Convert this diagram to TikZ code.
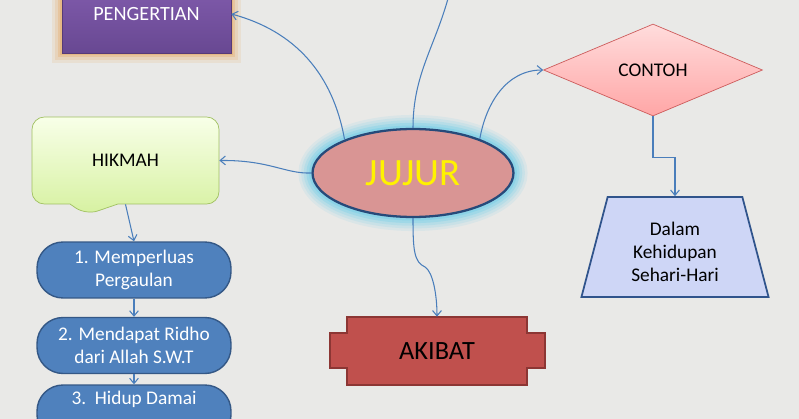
\documentclass[tikz,border=0pt]{standalone}
\usepackage{fontspec}
\setmainfont{Carlito}
\usetikzlibrary{arrows.meta,shapes.geometric,shapes.callouts,calc}
\definecolor{paper}{RGB}{233,233,231}
\definecolor{linkblue}{RGB}{74,126,187}
\definecolor{purpletop}{RGB}{132,94,176}
\definecolor{purplebot}{RGB}{104,72,146}
\definecolor{purpleline}{RGB}{86,58,120}
\definecolor{glowamber}{RGB}{228,166,96}
\definecolor{glowcyan}{RGB}{110,205,232}
\definecolor{jujurfill}{RGB}{217,149,148}
\definecolor{jujurline}{RGB}{38,74,122}
\definecolor{pinktop}{RGB}{255,220,220}
\definecolor{pinkbot}{RGB}{255,166,166}
\definecolor{pinkline}{RGB}{205,92,92}
\definecolor{greentop}{RGB}{248,255,232}
\definecolor{greenbot}{RGB}{214,241,160}
\definecolor{greenline}{RGB}{160,192,96}
\definecolor{itemblue}{RGB}{79,129,189}
\definecolor{itemline}{RGB}{52,88,134}
\definecolor{lavender}{RGB}{206,214,246}
\definecolor{trapline}{RGB}{48,84,140}
\definecolor{akibatred}{RGB}{192,80,77}
\definecolor{akibatline}{RGB}{140,54,52}

\begin{document}
\begin{tikzpicture}[x=0.02cm, y=0.02cm, >={Straight Barb[length=3pt,width=5pt]},
    link/.style={->, linkblue, line width=0.6pt},
    pengbox/.style={rectangle, draw=purpleline, top color=purpletop,
                    bottom color=purplebot, text=white, minimum width=3.38cm,
                    minimum height=1.56cm, font=\fontsize{11.5}{14}\selectfont,
                    preaction={draw=glowamber, line width=11pt, opacity=0.15},
                    preaction={draw=glowamber, line width=8pt, opacity=0.2},
                    preaction={draw=glowamber, line width=5pt, opacity=0.3},
                    preaction={draw=glowamber, line width=2.5pt, opacity=0.4}},
    jujurnode/.style={ellipse, draw=jujurline, line width=1.3pt, fill=jujurfill,
                      minimum width=4.02cm, minimum height=1.76cm, text=yellow,
                      font=\fontsize{22}{26}\selectfont,
                      preaction={draw=glowcyan, line width=16pt, opacity=0.12},
                      preaction={draw=glowcyan, line width=13pt, opacity=0.15},
                      preaction={draw=glowcyan, line width=10pt, opacity=0.2},
                      preaction={draw=glowcyan, line width=7pt, opacity=0.3},
                      preaction={draw=glowcyan, line width=4pt, opacity=0.4}},
    contohnode/.style={diamond, draw=pinkline, top color=pinktop,
                       bottom color=pinkbot, inner sep=0pt, minimum width=4.38cm,
                       minimum height=1.84cm, font=\fontsize{11}{13}\selectfont},
    hikmahnode/.style={rectangle callout, rounded corners=7pt, draw=greenline,
                       top color=greentop, bottom color=greenbot,
                       minimum width=3.74cm, minimum height=1.74cm,
                       callout pointer width=0.96cm,
                       font=\fontsize{11}{13}\selectfont},
    poin/.style={rectangle, rounded corners=0.52cm, draw=itemline, line width=0.8pt,
                 fill=itemblue, text=white, minimum width=3.88cm,
                 minimum height=1.12cm, align=center,
                 font=\fontsize{11}{13.5}\selectfont},
    dalamnode/.style={trapezium, trapezium left angle=76.5,
                      trapezium right angle=76.5, trapezium stretches=true,
                      draw=trapline, line width=1pt, fill=lavender,
                      minimum width=3.76cm, minimum height=2cm, align=center,
                      font=\fontsize{11}{13}\selectfont},
    akibatbody/.style={draw=akibatline, line width=1.2pt, fill=akibatred}]
  \useasboundingbox (0,0) rectangle (799,-419);
  \clip (0,0) rectangle (799,-419);
  \fill[paper] (0,0) rectangle (799,-419);

  % Nodes
  \node[pengbox] (pengertian) at (146.5,-14) {PENGERTIAN};
  \node[jujurnode] (jujur) at (413,-173) {JUJUR};
  \node[contohnode] (contoh) at (653,-70) {CONTOH};
  \node[dalamnode] (dalam) at (675,-247)
       {\rule{0pt}{13pt}Dalam\\Kehidupan\\Sehari-Hari};
  \node[hikmahnode, callout absolute pointer={(86,-215)}] (hikmah)
       at (125.5,-160.5) {HIKMAH};
  \node[poin] (poin1) at (134,-270) {1. Memperluas\\Pergaulan};
  \node[poin] (poin2) at (134,-345.5) {2. Mendapat Ridho\\dari Allah S.W.T};
  \node[poin] (poin3) at (134,-413) {3.\ \ Hidup Damai\\\strut};
  \filldraw[akibatbody] (347,-317) -- (527,-317) -- (527,-333) -- (545,-333)
    -- (545,-368) -- (527,-368) -- (527,-385) -- (347,-385) -- (347,-368)
    -- (330,-368) -- (330,-333) -- (347,-333) -- cycle;
  \node[minimum width=3.6cm, minimum height=1.36cm,
        font=\fontsize{15}{18}\selectfont] (akibat) at (437,-351) {AKIBAT};
  \coordinate (atas) at (449,5);

  % Arrows
  \draw[link] (jujur.154) to[out=100, in=-15] (pengertian.east);
  \draw[linkblue, line width=0.6pt] (jujur.north) to[out=90, in=-105] (atas);
  \draw[link] (jujur.27) to[out=80, in=180] (contoh.west);
  \draw[link] (jujur.west) .. controls (285,-174) and (270,-160) .. (hikmah.east);
  \draw[link] (jujur.south) .. controls (413,-250) and (414,-262) .. (425,-267)
    .. controls (433,-272) and (437,-295) .. (akibat.north);
  \draw[link] (contoh.south) -- ++(0,-41) -| (dalam.north);
  \draw[link] (hikmah.south) -- (poin1.north);
  \draw[link] (poin1.south) -- (poin2.north);
  \draw[link] (poin2.south) -- (poin3.north);
\end{tikzpicture}
\end{document}
